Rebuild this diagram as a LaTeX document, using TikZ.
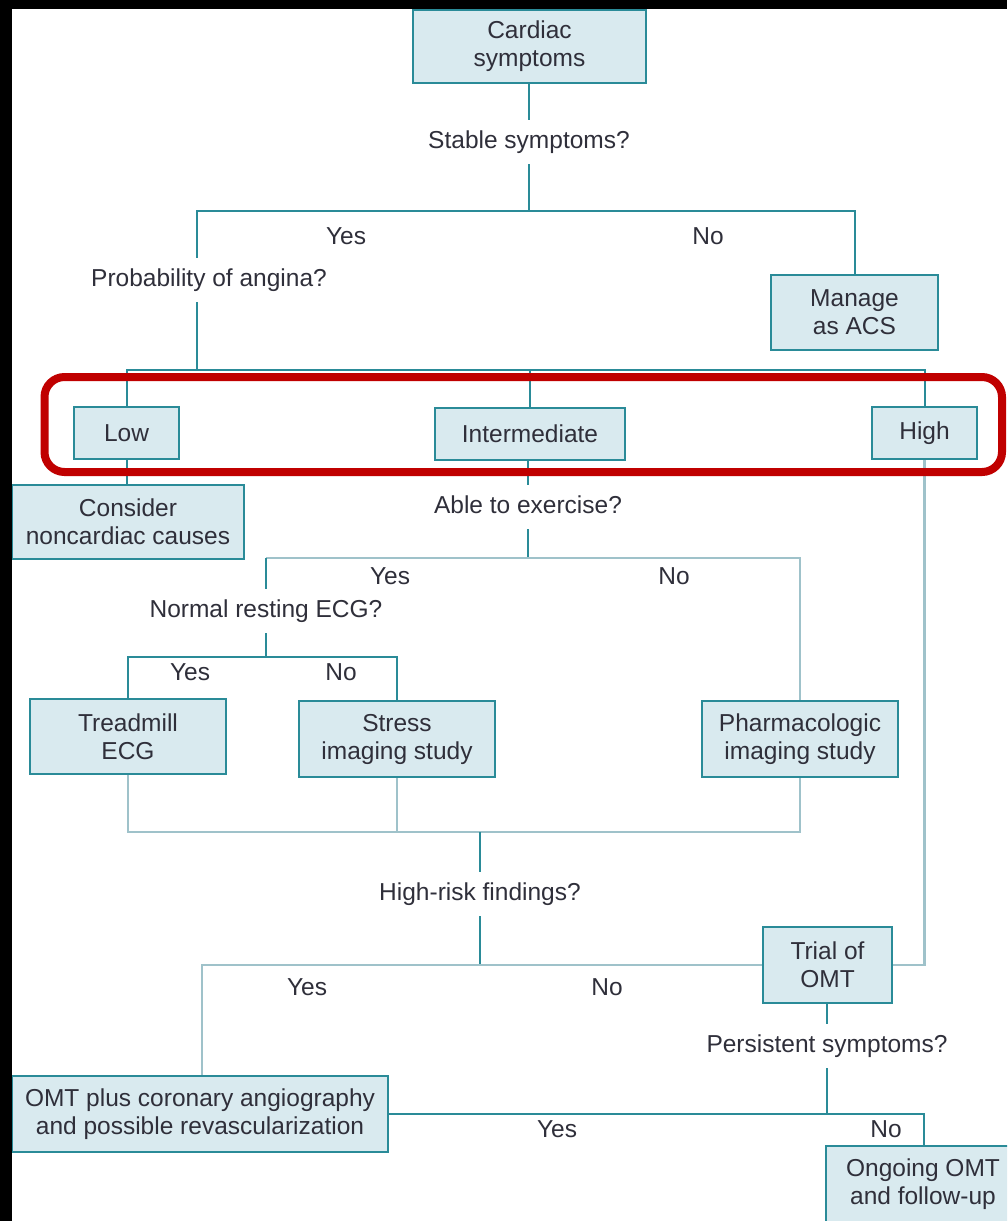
\documentclass[tikz,border=0pt]{standalone}
\usepackage{fontspec}
\setmainfont{Liberation Sans}
\definecolor{edge}{HTML}{2A8B98}
\definecolor{pale}{HTML}{9FC2CA}
\definecolor{fillc}{HTML}{D9EAEF}
\definecolor{ink}{HTML}{2F2F3A}
\definecolor{hl}{HTML}{C00000}
\tikzset{
  stepbox/.style={draw=edge, line width=2pt, fill=fillc, text=ink, align=center,
    inner sep=0pt, font=\fontsize{24.5}{28}\selectfont},
  lbl/.style={text=ink, inner xsep=2pt, inner ysep=11pt, text height=17.5pt,
    text depth=5pt, font=\fontsize{24.5}{28}\selectfont},
  link/.style={draw=edge, line width=2pt},
  plink/.style={draw=pale, line width=2.5pt},
}
\begin{document}
\begin{tikzpicture}[x=1pt,y=-1pt]
\useasboundingbox (0,0) rectangle (1007,1221);
\fill[white] (0,0) rectangle (1007,1221);
\clip (0,0) rectangle (1007,1221);

% decision boxes
\node[stepbox, minimum width=233pt, minimum height=73pt] (cs) at (529.5,46.5) {Cardiac\\symptoms};
\node[stepbox, minimum width=167pt, minimum height=75pt] (acs) at (854.5,312.5) {Manage\\as ACS};
\node[stepbox, minimum width=105pt, minimum height=52pt] (low) at (126.5,433) {Low};
\node[stepbox, minimum width=190pt, minimum height=52pt] (int) at (530,434) {Intermediate};
\node[stepbox, minimum width=105pt, minimum height=52pt] (high) at (924.5,433) {High};
\node[stepbox, minimum width=232pt, minimum height=74pt] (cons) at (128,522) {Consider\\noncardiac causes};
\node[stepbox, minimum width=196pt, minimum height=75pt] (tread) at (128,736.5) {Treadmill\\ECG};
\node[stepbox, minimum width=196pt, minimum height=76pt] (stress) at (397,739) {Stress\\imaging study};
\node[stepbox, minimum width=196pt, minimum height=76pt] (pharm) at (800,739) {Pharmacologic\\imaging study};
\node[stepbox, minimum width=129pt, minimum height=76pt] (trial) at (827.5,965) {Trial of\\OMT};
\node[stepbox, minimum width=376pt, minimum height=76pt] (omt) at (200,1114) {OMT plus coronary angiography\\and possible revascularization};
\node[stepbox, minimum width=194pt, minimum height=76pt] (ongo) at (923,1184) {Ongoing OMT\\and follow-up};

% questions and branch labels
\node[lbl] (q1) at (529,142) {Stable symptoms?};
\node[lbl] (yes1) at (346,238) {Yes};
\node[lbl] (no1) at (708,238) {No};
\node[lbl] (pa) at (209,280) {Probability of angina?};
\node[lbl] (q2) at (528,507) {Able to exercise?};
\node[lbl] (yes2) at (390,578) {Yes};
\node[lbl] (no2) at (674,578) {No};
\node[lbl] (q3) at (266,611) {Normal resting ECG?};
\node[lbl] (yes3) at (190,674) {Yes};
\node[lbl] (no3) at (341,674) {No};
\node[lbl] (q4) at (480,894) {High-risk findings?};
\node[lbl] (yes4) at (307,989) {Yes};
\node[lbl] (no4) at (607,989) {No};
\node[lbl] (q5) at (827,1046) {Persistent symptoms?};
\node[lbl] (yes5) at (557,1131) {Yes};
\node[lbl] (no5) at (886,1131) {No};

% junction points
\coordinate (j1) at (529,211);
\coordinate (jL) at (197,211);
\coordinate (j2) at (197,370);
\coordinate (j3) at (528,558);
\coordinate (j4) at (266,657);
\coordinate (j5) at (480,832);
\coordinate (j6) at (480,965);
\coordinate (j7) at (202,965);
\coordinate (j8) at (924.5,965);
\coordinate (j9) at (827,1114);
\coordinate (j10) at (924,1114);

% connectors
\draw[link] (q1.north |- cs.south) -- (q1.north);
\draw[link] (q1.south) -- (j1);
\draw[link] (jL |- pa.north) -- (jL) -- (j1 -| acs.north) -- (acs.north);
\draw[link] (jL |- pa.south) -- (j2);
\draw[link] (low.north) -- (low.north |- j2) -- (high.north |- j2) -- (high.north);
\draw[link] (int.north |- j2) -- (int.north);
\draw[link] (low.south) -- (low.south |- cons.north);
\draw[link] (q2.north |- int.south) -- (q2.north);
\draw[link] (q2.south) -- (j3);
\draw[plink] (q3.north |- j3) -- (j3 -| pharm.north) -- (pharm.north);
\draw[link] (q3.north |- j3) -- (q3.north);
\draw[link] (q3.south) -- (j4);
\draw[link] (tread.north) -- (tread.north |- j4) -- (stress.north |- j4) -- (stress.north);
\draw[plink] (tread.south) -- (tread.south |- j5) -- (pharm.south |- j5) -- (pharm.south);
\draw[plink] (stress.south) -- (stress.south |- j5);
\draw[link] (j5) -- (q4.north);
\draw[link] (q4.south) -- (j6);
\draw[plink] (omt.north -| j7) -- (j7) -- (trial.west);
\draw[plink] (high.south) -- (j8) -- (trial.east);
\draw[link] (q5.north |- trial.south) -- (q5.north);
\draw[link] (q5.south) -- (j9);
\draw[link] (omt.east) -- (j10) -- (j10 |- ongo.north);

% highlight around the probability levels
\draw[hl, line width=8pt, rounded corners=20pt] (44.5,377) rectangle (1002,472);

% dark frame strips
\fill[black] (0,0) rectangle (12,1221);
\fill[black] (0,0) rectangle (1007,9);
\end{tikzpicture}
\end{document}
